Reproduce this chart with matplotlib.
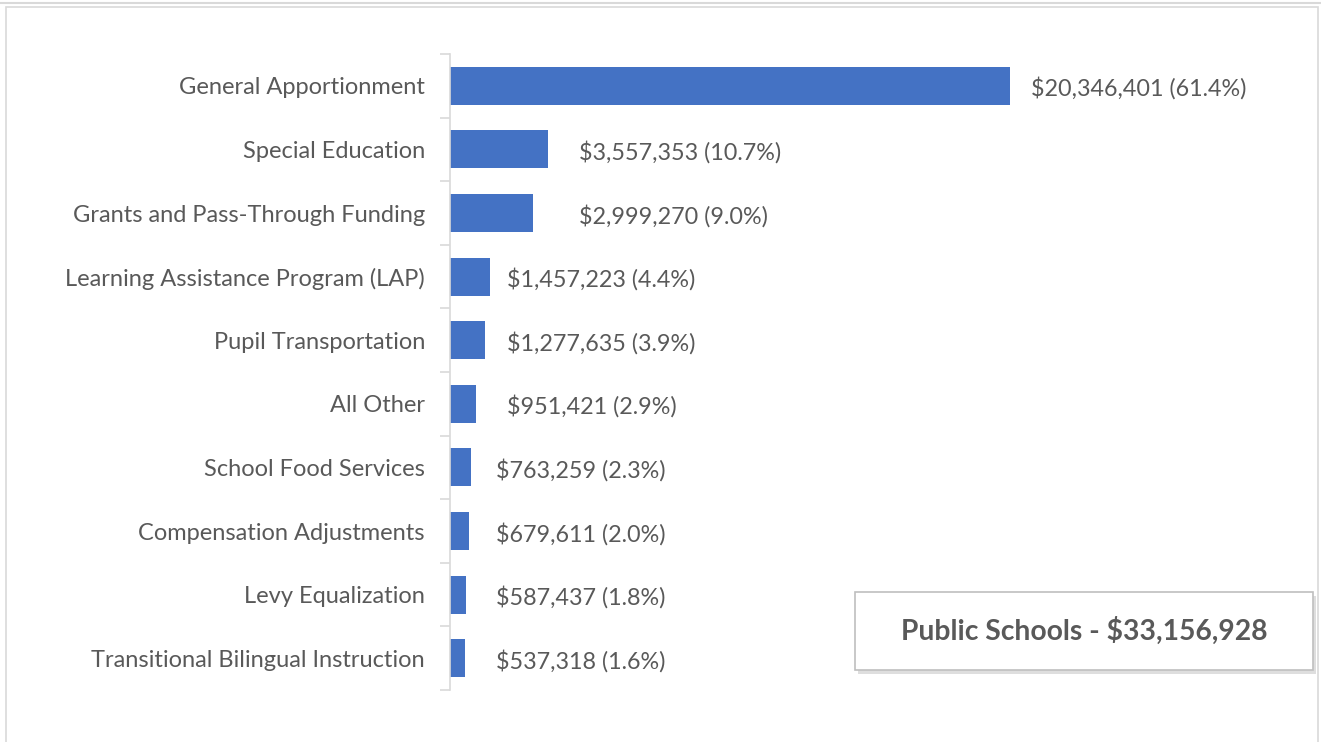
import matplotlib.pyplot as plt
from matplotlib.patches import Rectangle
from matplotlib.lines import Line2D

categories = ["General Apportionment", "Special Education", "Grants and Pass-Through Funding",
              "Learning Assistance Program (LAP)", "Pupil Transportation", "All Other",
              "School Food Services", "Compensation Adjustments", "Levy Equalization",
              "Transitional Bilingual Instruction"]
amounts = [20346401, 3557353, 2999270, 1457223, 1277635, 951421, 763259, 679611, 587437, 537318]
percents = [61.4, 10.7, 9.0, 4.4, 3.9, 2.9, 2.3, 2.0, 1.8, 1.6]
title_text = "Public Schools - $33,156,928"
# gap in pixels between bar end and its label (labels were nudged by hand in the original)
label_gap_px = [21, 31, 46, 17, 22, 31, 25, 27, 30, 31]

plt.rcParams['font.family'] = ['Lato', 'DejaVu Sans']
W, H = 1321, 742
fig = plt.figure(figsize=(W / 100, H / 100), dpi=100)

# outer frame lines
fig.add_artist(Line2D([0, 1], [1 - 3 / H, 1 - 3 / H], color="#d9d9d9", lw=1.5))
fig.add_artist(Rectangle((6 / W, -0.01), (1318 - 6) / W, 1 - 7 / H + 0.01,
                         fill=False, ec="#d9d9d9", lw=1.2, transform=fig.transFigure))

ax = fig.add_axes([450 / W, 1 - 690 / H, 850 / W, 636 / H])
gray = "#595959"
ypos = list(range(len(categories)))
ax.barh(ypos, amounts, height=0.6, color="#4472C4")
ax.set_ylim(len(categories) - 0.5, -0.5)
px_per_unit = 560 / amounts[0]
ax.set_xlim(0, 850 / px_per_unit)

for y, a, p, g in zip(ypos, amounts, percents, label_gap_px):
    ax.annotate(f"${a:,} ({p:.1f}%)", (a, y), xytext=(g * 0.72, -2), textcoords="offset points",
                va="center", ha="left", fontsize=16.8, color=gray)

ax.set_yticks(ypos)
ax.set_yticklabels(categories, fontsize=17, color=gray)
ax.tick_params(axis="y", length=0, pad=18)
ax.set_yticks([i - 0.5 for i in range(len(categories) + 1)], minor=True)
ax.tick_params(axis="y", which="minor", length=7, color="#d9d9d9", width=1.2)
ax.set_xticks([])
for s in ["top", "right", "bottom"]:
    ax.spines[s].set_visible(False)
ax.spines["left"].set_color("#d9d9d9")
ax.spines["left"].set_linewidth(1.2)

# title box with shadow
bx, by, bw, bh = 855, 592, 458, 78
fig.add_artist(Rectangle(((bx + 3) / W, 1 - (by + bh + 4) / H), bw / W, bh / H,
                         fc="#c8c8c8", ec="none", alpha=0.6, transform=fig.transFigure))
fig.add_artist(Rectangle((bx / W, 1 - (by + bh) / H), bw / W, bh / H,
                         fc="white", ec="#bfbfbf", lw=1.2, transform=fig.transFigure))
fig.text((bx + bw / 2) / W, 1 - (by + bh / 2) / H, title_text, ha="center", va="center",
         fontsize=20.3, fontweight="bold", color=gray)

fig.savefig("out.png", dpi=100)
